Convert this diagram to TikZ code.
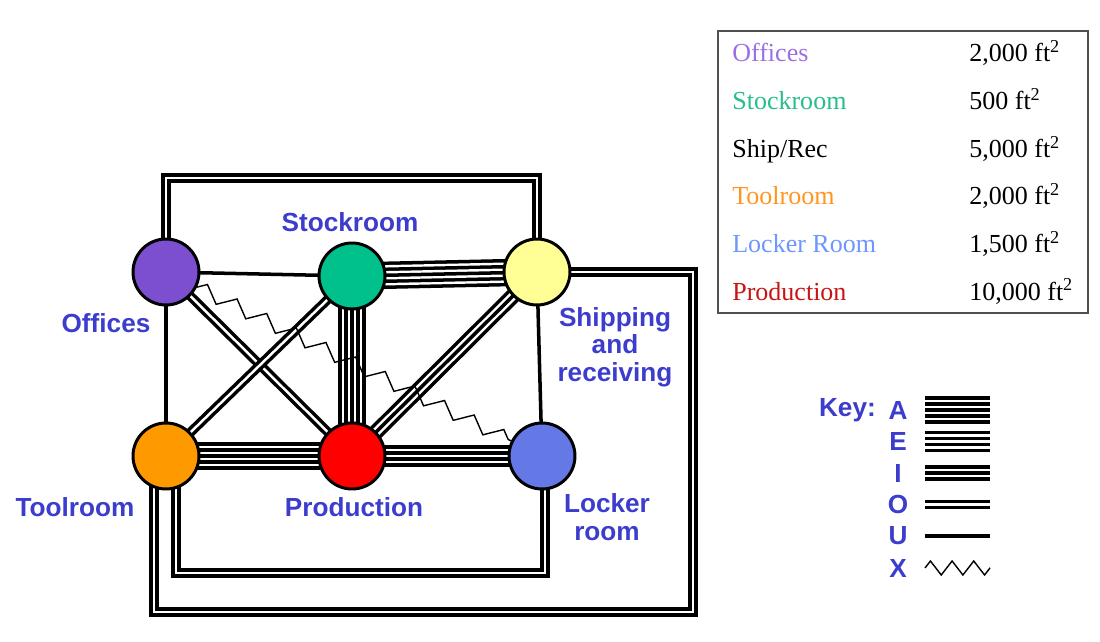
\documentclass[tikz,border=0pt]{standalone}
\usepackage{fontspec}
\setmainfont{Liberation Serif}
\newfontfamily\labelfont{Liberation Sans}
\usetikzlibrary{calc,backgrounds,decorations.pathmorphing}
\definecolor{lblblue}{RGB}{60,60,205}
\definecolor{offfill}{RGB}{123,79,207}
\definecolor{stockfill}{RGB}{0,192,140}
\definecolor{shipfill}{RGB}{255,255,150}
\definecolor{toolfill}{RGB}{255,153,0}
\definecolor{prodfill}{RGB}{255,0,0}
\definecolor{lockfill}{RGB}{100,120,230}
\definecolor{offtext}{RGB}{155,110,230}
\definecolor{stocktext}{RGB}{40,190,140}
\definecolor{tooltext}{RGB}{255,150,30}
\definecolor{locktext}{RGB}{110,150,255}
\definecolor{prodtext}{RGB}{200,20,20}
\definecolor{tblgray}{RGB}{80,80,80}
\newlength\stripe
\setlength\stripe{2pt}
\newlength\gapw
\setlength\gapw{1.4pt}
\tikzset{
    room/.style={circle, draw=black, line width=1.7pt, minimum size=1.32cm, inner sep=0pt},
    lbl/.style={font=\labelfont\bfseries\fontsize{14.9}{15.6}\selectfont, text=lblblue, align=center},
    tbl/.style={font=\fontsize{14.8}{17}\selectfont, anchor=base west, inner sep=0pt},
    relU/.style={draw=black, line width=\stripe},
    relO/.style={preaction={draw=black, line width=\dimexpr2\stripe+\gapw\relax}, draw=white, line width=\gapw},
    relI/.style={preaction={draw=black, line width=\dimexpr3\stripe+2\gapw\relax}, preaction={draw=white, line width=\dimexpr\stripe+2\gapw\relax}, draw=black, line width=\stripe},
    relE/.style={preaction={draw=black, line width=\dimexpr4\stripe+3\gapw\relax}, preaction={draw=white, line width=\dimexpr2\stripe+3\gapw\relax}, preaction={draw=black, line width=\dimexpr2\stripe+\gapw\relax}, draw=white, line width=\gapw},
    relA/.style={preaction={draw=black, line width=\dimexpr5\stripe+4\gapw\relax}, preaction={draw=white, line width=\dimexpr3\stripe+4\gapw\relax}, preaction={draw=black, line width=\dimexpr3\stripe+2\gapw\relax}, preaction={draw=white, line width=\dimexpr\stripe+2\gapw\relax}, draw=black, line width=\stripe},
    zz/.style={decorate, decoration={zigzag, segment length=#1, amplitude=0.14cm}, line width=0.8pt},
}
\begin{document}
\begin{tikzpicture}[x=0.02cm, y=-0.02cm]
                \useasboundingbox (0,0) rectangle (1100,642);

                \node [room, fill=offfill] (off) at (166,272) {};
                \node [room, fill=stockfill] (stock) at (352,276) {};
                \node [room, fill=shipfill] (ship) at (537,272) {};
                \node [room, fill=toolfill] (tool) at (166,456) {};
                \node [room, fill=prodfill] (prod) at (352,456) {};
                \node [room, fill=lockfill] (lock) at (542,456) {};

                \begin{scope}[on background layer]
                \draw[relO] (off.center) |- (537,178) -- (ship.center);
                \draw[relO] (ship.center) -| (693,612) -| ($(tool.center)+(-12,0)$);
                \draw[relO] ($(tool.center)+(10,0)$) |- ($(lock.center)+(3,117)$) -- ($(lock.center)+(3,0)$);
                \draw[relU] (off.center) -- (stock.center);
                \draw[relU] (off.center) -- (tool.center);
                \draw[relU] (ship.center) -- (lock.center);
                \draw[relO] (off.center) -- (prod.center);
                \draw[relO] (stock.center) -- (tool.center);
                \draw[relI] (ship.center) -- (prod.center);
                \draw[relE] (prod.center) -- (lock.center);
                \draw[relA] (stock.center) -- (ship.center);
                \draw[relA] (stock.center) -- (prod.center);
                \draw[relA] (tool.center) -- (prod.center);
                \end{scope}
                \draw[zz=0.66cm] (off) -- (lock);

                \node [lbl] (offlbl) at (106,323) {Offices};
                \node [lbl] (stocklbl) at (350,222) {Stockroom};
                \node [lbl] (shiplbl) at (615,347) {Shipping\\and\\receiving};
                \node [lbl] (toollbl) at (75,507) {Toolroom};
                \node [lbl] (prodlbl) at (354,507) {Production};
                \node [lbl] (locklbl) at (607,517) {Locker\\room};

                \draw[tblgray, line width=0.9pt] (718,31) rectangle (1088,313);
                \node [tbl, text=offtext] (toff) at (732,62) {Offices};
                \node [tbl, text=stocktext] (tstock) at (732,110) {Stockroom};
                \node [tbl] (tship) at (732,158) {Ship/Rec};
                \node [tbl, text=tooltext] (ttool) at (732,205) {Toolroom};
                \node [tbl, text=locktext] (tlock) at (732,253) {Locker Room};
                \node [tbl, text=prodtext] (tprod) at (732,300) {Production};
                \node [tbl] (aoff) at (969,62) {2,000 ft\textsuperscript{2}};
                \node [tbl] (astock) at (969,110) {500 ft\textsuperscript{2}};
                \node [tbl] (aship) at (969,158) {5,000 ft\textsuperscript{2}};
                \node [tbl] (atool) at (969,205) {2,000 ft\textsuperscript{2}};
                \node [tbl] (alock) at (969,253) {1,500 ft\textsuperscript{2}};
                \node [tbl] (aprod) at (969,300) {10,000 ft\textsuperscript{2}};

                \node [lbl, anchor=east] (keyword) at (882,410) {Key:};
                \foreach \k/\r [count=\i from 0] in {A/relA,E/relE,I/relI,O/relO,U/relU}
                {
                    \node [lbl] (key\k) at (898,410+31.5*\i) {\k};
                    \draw[\r] ($(key\k)+(27,0)$) -- ++(65,0);
                }
                \node [lbl] (keyX) at (898,568) {X};
                \draw[zz=0.4333cm] ($(keyX)+(27,0)$) -- ++(65,0);
\end{tikzpicture}
\end{document}
